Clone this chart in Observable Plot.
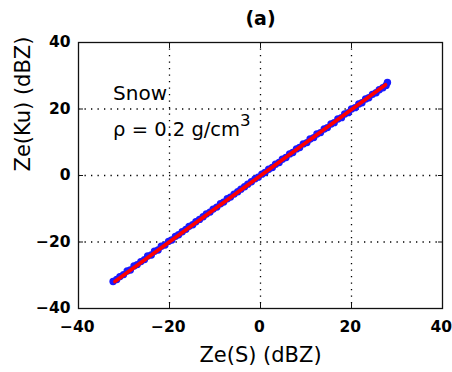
<!DOCTYPE html>
<html>
<head>
<meta charset="utf-8">
<script src="https://cdn.jsdelivr.net/npm/d3@7"></script>
<script src="https://cdn.jsdelivr.net/npm/@observablehq/plot@0.6"></script>
<style>
  html, body { margin: 0; padding: 0; background: #fff; }
  #chart svg { display: block; }
</style>
</head>
<body>
<div id="chart"></div>
<script>
// Ze(S) vs Ze(Ku), snow, rho = 0.2 g/cm3
const zeS = [-32.4, -31.6, -30.9, -30.1, -29.3, -28.6, -27.8, -27.1, -26.3, -25.5,
  -24.8, -24.0, -23.3, -22.5, -21.8, -21.0, -20.2, -19.5, -18.7, -18.0,
  -17.2, -16.4, -15.7, -14.9, -14.2, -13.4, -12.6, -11.9, -11.1, -10.4,
  -9.6, -8.8, -8.1, -7.3, -6.6, -5.8, -5.0, -4.3, -3.5, -2.8,
  -2.0, -1.2, -0.5, 0.3, 1.0, 1.8, 2.6, 3.3, 4.1, 4.8,
  5.6, 6.4, 7.1, 7.9, 8.6, 9.4, 10.2, 10.9, 11.7, 12.4,
  13.2, 14.0, 14.7, 15.5, 16.2, 17.0, 17.8, 18.5, 19.3, 20.0,
  20.8, 21.6, 22.3, 23.1, 23.8, 24.6, 25.4, 26.1, 26.9, 27.6, 27.9];
const zeKu = [-31.9, -31.3, -30.4, -29.8, -28.7, -28.4, -27.2, -26.8, -25.9, -25.3,
  -24.2, -23.9, -22.8, -22.4, -21.3, -20.9, -19.8, -19.4, -18.3, -17.8,
  -16.9, -16.2, -15.3, -14.8, -13.9, -13.2, -12.4, -11.6, -11.0, -10.1,
  -9.5, -8.5, -8.0, -7.0, -6.5, -5.6, -4.9, -4.1, -3.4, -2.6,
  -1.9, -1.0, -0.5, 0.4, 0.9, 1.9, 2.4, 3.4, 3.9, 4.9,
  5.4, 6.5, 6.9, 8.0, 8.4, 9.5, 9.9, 11.0, 11.4, 12.5,
  12.9, 14.0, 14.4, 15.5, 15.9, 17.0, 17.4, 18.5, 18.9, 20.0,
  20.4, 21.5, 21.9, 23.0, 23.4, 24.4, 24.9, 25.8, 26.4, 27.1, 28.0];
// fitted line endpoints
const fitS = [-32.0, 27.5];
const fitKu = [-31.9, 27.3];
const ticks = [-40, -20, 0, 20, 40];
const gridTicks = [-20, 0, 20];
const titleText = "(a)";
const xLabel = "Ze(S) (dBZ)";
const yLabel = "Ze(Ku) (dBZ)";
const annot1 = {x: -32.4, y: 24.6, text: "Snow"};
const annot2 = {x: -32.4, y: 13.9, text: "\u03c1 = 0.2 g/cm", sup: "3"};

const points = zeS.map((s, i) => ({s, ku: zeKu[i]}));
const fit = fitS.map((s, i) => ({s, ku: fitKu[i]}));

const font = "'DejaVu Sans', Verdana, sans-serif";

const plot = Plot.plot({
  width: 452,
  height: 372,
  marginLeft: 78,
  marginRight: 10,
  marginTop: 42,
  marginBottom: 64,
  style: {fontFamily: font, fontSize: "16px", color: "#000", background: "#fff"},
  x: {domain: [-40, 40], ticks},
  y: {domain: [-40, 40], ticks},
  marks: [
    Plot.gridX(gridTicks, {stroke: "#000", strokeOpacity: 1, strokeWidth: 1.3, strokeDasharray: "1.3,5.2"}),
    Plot.gridY(gridTicks, {stroke: "#000", strokeOpacity: 1, strokeWidth: 1.3, strokeDasharray: "1.3,5.2"}),
    Plot.axisX({ticks, anchor: "bottom", tickSize: 0, tickPadding: 12, dx: -1.2, label: null, fontSize: 15.5, fontWeight: "bold", fill: "#000"}),
    Plot.axisY({ticks, anchor: "left", tickSize: 0, tickPadding: 8, label: null, fontSize: 15.5, fontWeight: "bold", fill: "#000"}),
    Plot.axisX({ticks, anchor: "bottom", tickSize: -5, tickFormat: () => "", label: null, stroke: "#111"}),
    Plot.axisX({ticks, anchor: "top", tickSize: -5, tickFormat: () => "", label: null, stroke: "#111"}),
    Plot.axisY({ticks, anchor: "left", tickSize: -5, tickFormat: () => "", label: null, stroke: "#111"}),
    Plot.axisY({ticks, anchor: "right", tickSize: -5, tickFormat: () => "", label: null, stroke: "#111"}),
    Plot.frame({stroke: "#111", strokeWidth: 1.3}),
    Plot.dot(points, {x: "s", y: "ku", r: 3.7, fill: "#1a1aff", stroke: "none"}),
    Plot.line(fit, {x: "s", y: "ku", stroke: "#ff0000", strokeWidth: 3.6}),
    Plot.text([annot1], {x: "x", y: "y", text: "text", textAnchor: "start", fontSize: 20, fill: "#000"}),
    Plot.text([annot2], {x: "x", y: "y", text: "text", textAnchor: "start", fontSize: 19.5, fill: "#000", className: "rho-annot"}),
    Plot.text([titleText], {frameAnchor: "top", lineAnchor: "middle", dy: -24, text: d => d, fontSize: 19, fontWeight: "bold", fill: "#000"}),
    Plot.text([xLabel], {frameAnchor: "bottom", lineAnchor: "middle", dy: 47, text: d => d, fontSize: 21, fill: "#000"}),
    Plot.text([yLabel], {frameAnchor: "left", lineAnchor: "middle", dx: -55, dy: -4, rotate: -90, text: d => d, fontSize: 21, fill: "#000"})
  ]
});
// superscript for cm^3
d3.select(plot).selectAll(".rho-annot text").each(function () {
  d3.select(this).append("tspan").attr("dy", "-0.55em").attr("font-size", "0.85em").text(annot2.sup);
});
document.getElementById("chart").appendChild(plot);
</script>
</body>
</html>
